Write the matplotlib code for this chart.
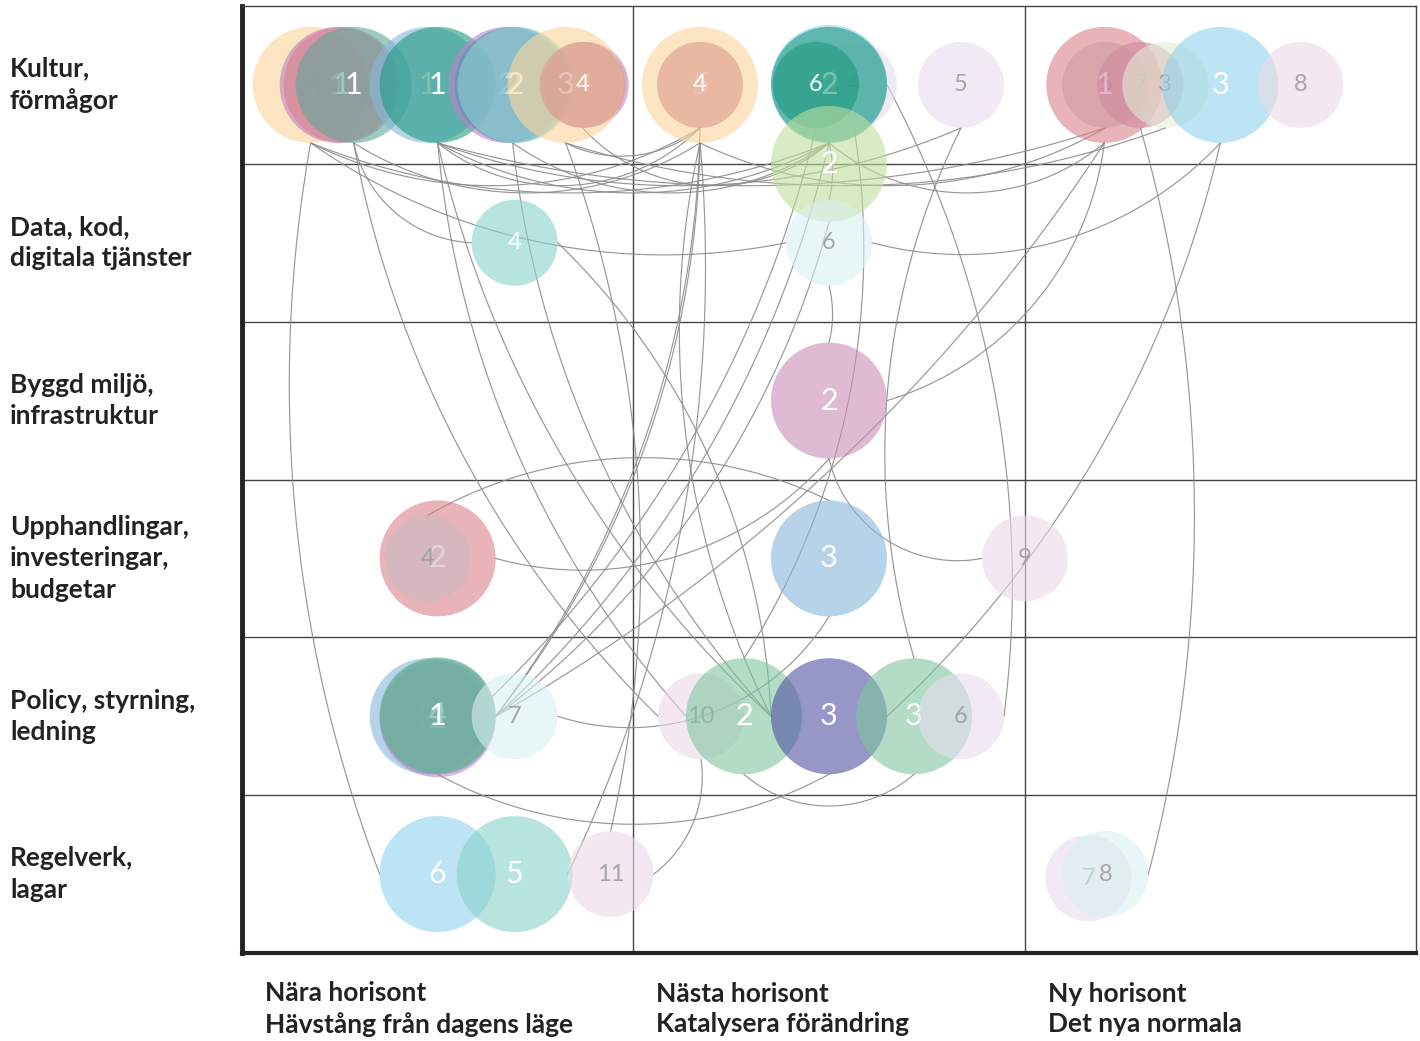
import numpy as np
import matplotlib
matplotlib.use("Agg")
import matplotlib.pyplot as plt
from matplotlib.patches import Circle

plt.rcParams['font.family'] = ['Lato', 'DejaVu Sans']

# rows / columns of the matrix
row_labels = ["Kultur,\nförmågor", "Data, kod,\ndigitala tjänster",
              "Byggd miljö,\ninfrastruktur",
              "Upphandlingar,\ninvesteringar,\nbudgetar",
              "Policy, styrning,\nledning", "Regelverk,\nlagar"]
col_labels = ["Nära horisont\nHävstång från dagens läge",
              "Nästa horisont\nKatalysera förändring",
              "Ny horisont\nDet nya normala"]

# circles: cell (col,row), jitter inside the cell, weight, group, number
c_col = [0, 0, 0, 0, 0, 0, 0, 0, 0, 0, 0, 0,
         1, 1, 1, 1, 1, 1, 1, 1,
         2, 2, 2, 2, 2, 2,
         0, 1, 1,
         0, 0, 1, 1,
         0, 0, 0, 0, 0, 1, 1, 1, 1, 1,
         0, 0, 0, 2, 2]
c_row = [0, 0, 0, 0, 0, 0, 0, 0, 0, 0, 0, 0,
         0, 0, 0, 0, 0, 0, 0, 0,
         0, 0, 0, 0, 0, 0,
         1, 1, 2,
         3, 3, 3, 3,
         4, 4, 4, 4, 4, 4, 4, 4, 4, 4,
         5, 5, 5, 5, 5]
c_dx = [-127, -100, -96, -84, -10, 0, 69, 75, 78, 148, 128, 145,
        -129, -129, 25, 0, 0, -13, 132, 0,
        -115, -116, -80, -55, 0, 80,
        77, 0, 0,
        0, -10, 0, 196,
        -10, 0, 0, 0, 77, -128, -85, 0, 85, 132,
        0, 77, 173, -132, -115]
c_dy = [0, 0, 0, 0, 0, 0, 0, 0, 0, 0, 0, 0,
        0, 0, 0, -2, 0, 0, 0, 79,
        0, 0, 0, 0, 0, 0,
        0, 0, 0,
        0, 0, 0, 0,
        0, 3, -1, 0, 0, 0, 0, 0, 0, 0,
        0, 0, 0, 4, 0]
c_big = [1, 1, 1, 1, 1, 1, 1, 1, 1, 0, 1, 0,
         1, 0, 0, 1, 1, 0, 0, 1,
         0, 1, 0, 0, 1, 0,
         0, 0, 1,
         1, 0, 1, 0,
         1, 1, 1, 1, 0, 0, 1, 1, 1, 0,
         1, 1, 0, 0, 0]
c_group = ['peach', 'purple', 'red', 'jade', 'blue', 'teal', 'purple', 'steel',
           'aqua', 'purple', 'peach', 'salmon',
           'peach', 'salmon', 'lavender', 'sky', 'teal', 'teal', 'lavender', 'lime',
           'greyrose', 'red', 'rose', 'cream', 'sky', 'blush',
           'aqua', 'ice', 'mauve',
           'red', 'greyrose', 'blue', 'blush',
           'blue', 'purple', 'green', 'jade', 'ice', 'blush', 'green', 'indigo',
           'green', 'lavender',
           'sky', 'aqua', 'blush', 'lavender', 'ice']
c_label = ['1', '1', '1', '1', '1', '1', '2', '2', '2', '4', '3', '4',
           '5', '4', '4', '4', '2', '6', '5', '2',
           '5', '1', '7', '3', '3', '8',
           '4', '6', '2',
           '2', '4', '3', '9',
           '2', '2', '4', '1', '7', '10', '2', '3', '3', '6',
           '6', '5', '11', '7', '8']

# connections between circles (from, anchor, to, anchor)
links = [(43, 'l', 0, 'b'), (26, 'l', 3, 'b'), (13, 'b', 0, 'b'), (13, 'b', 5, 'b'),
         (13, 'b', 10, 'b'), (12, 'b', 3, 'b'), (16, 'b', 0, 'b'), (16, 'b', 5, 'b'),
         (16, 'b', 7, 'b'), (18, 'b', 5, 'b'), (21, 'b', 16, 'b'), (20, 'b', 5, 'b'),
         (23, 'b', 10, 'b'), (20, 'b', 12, 'b'), (24, 'b', 27, 'r'), (16, 'b', 11, 'b'),
         (16, 'b', 27, 't'), (27, 'b', 28, 't'), (16, 'r', 42, 'r'), (41, 't', 18, 'b'),
         (22, 'b', 47, 'r'), (24, 'b', 40, 'r'), (21, 'b', 36, 'r'), (21, 'b', 28, 'r'),
         (10, 'b', 45, 't'), (12, 'b', 45, 'l'), (38, 'b', 45, 'r'), (40, 'b', 36, 'b'),
         (41, 'b', 39, 'b'), (31, 'b', 37, 'r'), (30, 't', 31, 't'), (28, 'b', 29, 'r'),
         (32, 'l', 28, 'b'), (13, 'b', 36, 'r'), (16, 'b', 36, 'r'), (17, 'b', 37, 'l'),
         (19, 'b', 36, 'r'), (12, 'b', 36, 'r'), (39, 'l', 5, 'b'), (40, 'l', 5, 'b'),
         (38, 'l', 3, 'b'), (40, 'l', 7, 'b'), (26, 'r', 40, 'l'), (27, 'l', 0, 'b'),
         (40, 'l', 12, 'b'), (14, 'b', 39, 't')]

palette = {'peach': '#fcd59d', 'red': '#d9828c', 'blue': '#87b7dc', 'sky': '#91d2ee',
           'aqua': '#89d2cb', 'mauve': '#cb8fb6', 'indigo': '#5050a3',
           'green': '#80c5a0', 'lime': '#bede9e', 'teal': '#1f9a80',
           'salmon': '#da9a8a', 'purple': '#bc82c5', 'steel': '#5b93bf',
           'jade': '#5fa89b', 'lavender': '#e6ddef', 'blush': '#eedae6',
           'ice': '#d9f0f0', 'cream': '#e3ebd5', 'greyrose': '#ccbac2',
           'rose': '#cf8aa0'}
light = {'lavender', 'blush', 'ice', 'cream', 'greyrose', 'rose'}

W, H = 1174, 947
COLW, ROWH = W / 3, H / 6
R_BIG, R_SMALL = 58, 43

fig = plt.figure(figsize=(14.2, 10.41), dpi=100)
ax = fig.add_axes([242 / 1420, 1 - 953 / 1041, W / 1420, H / 1041])
ax.set_xlim(0, W)
ax.set_ylim(H, 0)
ax.set_xticks([])
ax.set_yticks([])

for k in (1, 2):
    ax.axvline(k * COLW, color='#444444', lw=1, zorder=1)
for k in range(1, 6):
    ax.axhline(k * ROWH, color='#444444', lw=1, zorder=1)
for s in ('top', 'right'):
    ax.spines[s].set_linewidth(1)
    ax.spines[s].set_color('#444444')
ax.spines['left'].set_linewidth(3.5)
ax.spines['left'].set_color('#222222')
ax.spines['bottom'].set_linewidth(3)
ax.spines['bottom'].set_color('#222222')

cx = [(c + 0.5) * COLW + d for c, d in zip(c_col, c_dx)]
cy = [(r + 0.5) * ROWH + d for r, d in zip(c_row, c_dy)]
rad = [R_BIG if b else R_SMALL for b in c_big]

for i in range(len(cx)):
    z = 2 + i * 0.01
    ax.add_patch(Circle((cx[i], cy[i]), rad[i], facecolor=palette[c_group[i]],
                        alpha=0.6, lw=0, zorder=z))
    if c_group[i] in light:
        tc, fs = '#9e9e9e', 17
    else:
        tc, fs = 'white', 22 if c_big[i] else 17
    ax.text(cx[i], cy[i], c_label[i], ha='center', va='center', color=tc,
            fontsize=fs, zorder=z + 0.005, alpha=0.9 if c_group[i] in light else 1)


def anchor(i, a):
    if a == 'b':
        return np.array([cx[i], cy[i] + rad[i]])
    if a == 't':
        return np.array([cx[i], cy[i] - rad[i]])
    if a == 'l':
        return np.array([cx[i] - rad[i], cy[i]])
    return np.array([cx[i] + rad[i], cy[i]])


def arc(p0, p1, n=80):
    d = p1 - p0
    L = np.hypot(d[0], d[1])
    s = min(50.0, 0.22 * L) * min(1.0, L / 200)
    R = (s * s + L * L / 4) / (2 * s)
    nrm = np.array([d[1], -d[0]]) / L
    c = (p0 + p1) / 2 - nrm * (R - s)
    a0 = np.arctan2(p0[1] - c[1], p0[0] - c[0])
    a1 = np.arctan2(p1[1] - c[1], p1[0] - c[0])
    da = (a1 - a0 + np.pi) % (2 * np.pi) - np.pi
    t = a0 + da * np.linspace(0, 1, n)
    return c[0] + R * np.cos(t), c[1] + R * np.sin(t)


# links sit under the bubbles so the numbers stay readable
for a, sa, b, sb in links:
    x, y = arc(anchor(a, sa), anchor(b, sb))
    ax.plot(x, y, color='#8c8c8c', lw=0.85, alpha=0.9, zorder=1.5)

for r, lab in enumerate(row_labels):
    ax.text(-232, (r + 0.5) * ROWH, lab, ha='left', va='center', fontsize=19,
            fontweight='bold', color='#222222', linespacing=1.37, clip_on=False)
for c, lab in enumerate(col_labels):
    ax.text(c * COLW + 23, 1003, lab, ha='left', va='center', fontsize=19,
            fontweight='bold', color='#222222', linespacing=1.35, clip_on=False)

fig.savefig('out.png', dpi=100, facecolor='white')
